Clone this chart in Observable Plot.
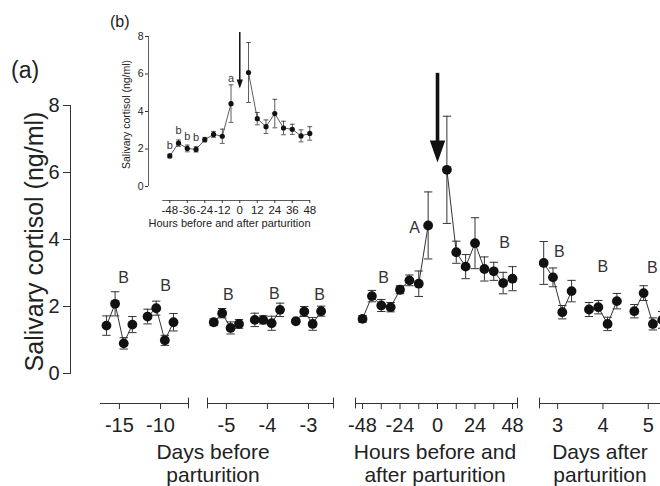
<!DOCTYPE html>
<html><head><meta charset="utf-8">
<script src="https://cdn.jsdelivr.net/npm/d3@7"></script>
<script src="https://cdn.jsdelivr.net/npm/@observablehq/plot@0.6"></script>
<style>
body{margin:0;background:#fff;}
#chart{position:relative;width:660px;height:486px;overflow:hidden;font-family:"Liberation Sans",Arial,Helvetica,sans-serif;color:#222;}
#chart svg{position:absolute;left:0;top:0;overflow:visible;background:transparent;}
.ttl{position:absolute;text-align:center;font-size:21px;line-height:23px;color:#222;white-space:nowrap;transform:translateX(-50%);}
.pl{position:absolute;color:#222;white-space:nowrap;}
</style></head><body><div id="chart"></div>
<script>
// ---------------- data ----------------
const yTicks = [0, 2, 4, 6, 8];
const slots = [1, 2, 3, 4];               // four samples per sampling day

// Days before parturition (far): -15, -10
const farDays = [-15, -10];
const farMean = [[1.43, 2.08, 0.90, 1.46], [1.70, 1.95, 0.99, 1.53]];
const farSE   = [[0.29, 0.36, 0.17, 0.24], [0.22, 0.21, 0.15, 0.26]];
const farTicks = [-15, -10];
const farLetters = ["B", "B"], farLetterX = [-14.5, -9.4], farLetterY = [2.84, 2.63];

// Days before parturition (near): -5, -4, -3
const nearDays = [-5, -4, -3];
const nearMean = [[1.53, 1.80, 1.36, 1.48], [1.60, 1.60, 1.50, 1.90], [1.56, 1.85, 1.48, 1.86]];
const nearSE   = [[0.10, 0.14, 0.18, 0.13], [0.20, 0.12, 0.21, 0.20], [0.06, 0.15, 0.19, 0.15]];
const nearTicks = [-5, -4, -3];
const nearLetters = ["B", "B", "B"], nearLetterX = [-4.95, -3.83, -2.73], nearLetterY = [2.36, 2.39, 2.36];

// Hours before and after parturition
const hoursBefore = [-48, -42, -36, -30, -24, -18, -12, -6];
const hoursBeforeMean = [1.63, 2.31, 2.03, 1.98, 2.50, 2.78, 2.68, 4.42];
const hoursBeforeSE   = [0.10, 0.17, 0.18, 0.14, 0.12, 0.16, 0.38, 1.00];
const hoursAfter = [6, 12, 18, 24, 30, 36, 42, 48];
const hoursAfterMean = [6.08, 3.62, 3.19, 3.89, 3.12, 3.05, 2.70, 2.83];
const hoursAfterSE   = [1.60, 0.33, 0.36, 0.76, 0.36, 0.27, 0.32, 0.36];
const hourTicks = [-48, -36, -24, -12, 0, 12, 24, 36, 48];
const hourTickLabels = [-48, -24, 0, 24, 48];
const hourLetters = ["B", "A", "B"], hourLetterX = [-34.6, -14.7, 42.9], hourLetterY = [2.84, 4.36, 3.91];
const partArrowTop = 8.96, partArrowTip = 6.30;   // parturition arrow (hour 0)

// Days after parturition: 3, 4, 5
const afterDays = [3, 4, 5];
const afterMean = [[3.30, 2.87, 1.83, 2.46], [1.91, 1.98, 1.48, 2.16], [1.86, 2.40, 1.48, 1.60]];
const afterSE   = [[0.64, 0.28, 0.20, 0.32], [0.21, 0.20, 0.20, 0.23], [0.20, 0.22, 0.18, 0.25]];
const afterTicks = [3, 4, 5];
const afterLetters = ["B", "B", "B"], afterLetterX = [3.04, 4.0, 5.09], afterLetterY = [3.64, 3.19, 3.16];

// Inset (b)
const insetTicks = [-48, -36, -24, -12, 0, 12, 24, 36, 48];
const insetLetters = ["b", "b", "b", "b", "a"];
const insetLetterX = [-48, -42, -36, -30, -6];
const insetLetterY = [2.19, 2.97, 2.67, 2.63, 5.74];
const insetArrowTop = 8.21, insetArrowTip = 5.23;

// ---------------- helpers ----------------
const W = 660, H = 486;
const FONT = '"Liberation Sans", Arial, Helvetica, sans-serif';
const INK = "#222", LINE = "#333", DOT = "#111";

function dayRows(days, means, ses, slotWidth) {
  const rows = [];
  days.forEach((d, i) => slots.forEach((s, k) =>
    rows.push({x: d + (s - 2.5) * slotWidth, y: means[i][k], se: ses[i][k], g: d})));
  return rows;
}
function hourRows(hours, means, ses, g) {
  return hours.map((h, i) => ({x: h, y: means[i], se: ses[i], g}));
}
function letterRows(t, xs, ys) { return t.map((s, i) => ({t: s, x: xs[i], y: ys[i]})); }

const capSymbol = {draw(ctx, size) { const r = Math.sqrt(size / Math.PI); ctx.moveTo(-r, 0); ctx.lineTo(r, 0); }};
const headSymbol = {draw(ctx, size) { const r = Math.sqrt(size / Math.PI);
  ctx.moveTo(0, 0); ctx.lineTo(-0.7 * r, -2 * r); ctx.lineTo(0.7 * r, -2 * r); ctx.closePath(); }};

function dataMarks(rows, o) {
  return [
    Plot.line(rows, {x: "x", y: "y", z: "g", stroke: LINE, strokeWidth: o.lw}),
    Plot.ruleX(rows, {x: "x", y1: d => d.y - d.se, y2: d => d.y + d.se, stroke: LINE, strokeWidth: o.lw}),
    Plot.dot(rows, {x: "x", y: d => d.y + d.se, symbol: capSymbol, r: o.cap, stroke: LINE, fill: "none", strokeWidth: o.lw}),
    Plot.dot(rows, {x: "x", y: d => d.y - d.se, symbol: capSymbol, r: o.cap, stroke: LINE, fill: "none", strokeWidth: o.lw}),
    Plot.dot(rows, {x: "x", y: "y", r: o.r, fill: DOT, stroke: "none"})
  ];
}

const chart = document.getElementById("chart");
function mount(svg) { svg.style.background = "transparent"; svg.style.overflow = "visible"; chart.appendChild(svg); }

// main panel geometry
const mainTop = 105, mainZero = 373, mainAxis = 403;
const yFloor = -(mainAxis - mainZero) / ((mainZero - mainTop) / 8);
const capHalf = 0.16;

function segment({rows, letters, domain, left, right, ticks, labels, caps, extra = []}) {
  return Plot.plot({
    width: W, height: H, marginTop: mainTop, marginBottom: H - mainAxis,
    marginLeft: left, marginRight: W - right,
    style: {fontFamily: FONT, color: INK, background: "transparent"},
    x: {domain, axis: null}, y: {domain: [yFloor, 8], axis: null},
    marks: [
      Plot.frame({anchor: "bottom", stroke: LINE}),
      Plot.ruleX(caps, {y1: yFloor - capHalf, y2: yFloor + capHalf, stroke: LINE}),
      Plot.axisX({ticks, tickSize: 6, tickPadding: 8, fontSize: 20, label: null, stroke: LINE,
        tickFormat: d => labels.includes(d) ? String(d) : ""}),
      ...extra,
      ...dataMarks(rows, {lw: 1, cap: 4.2, r: 4.9}),
      Plot.text(letters, {x: "x", y: "y", text: "t", fontSize: 16, fill: "#333"})
    ]
  });
}

// y axis of main panel
mount(Plot.plot({
  width: W, height: H, marginTop: mainTop, marginBottom: H - mainZero, marginLeft: 70, marginRight: W - 70,
  style: {fontFamily: FONT, color: INK, background: "transparent"},
  y: {domain: [0, 8], axis: null},
  marks: [
    Plot.frame({anchor: "left", stroke: LINE}),
    Plot.axisY({ticks: yTicks, anchor: "left", tickSize: 7, tickPadding: 4, fontSize: 20, label: null, stroke: LINE, tickFormat: d => String(d)}),
    Plot.text(["Salivary cortisol (ng/ml)"], {frameAnchor: "left", textAnchor: "middle", rotate: -90, dx: -36, dy: 2, fontSize: 25, fill: INK})
  ]
}));

// segment 1: -15, -10 days
mount(segment({rows: dayRows(farDays, farMean, farSE, 1.05), letters: letterRows(farLetters, farLetterX, farLetterY),
  domain: [-17.3, -6.6], left: 100, right: 188, ticks: farTicks, labels: farTicks, caps: [-6.6]}));
// segment 2: -5..-3 days
mount(segment({rows: dayRows(nearDays, nearMean, nearSE, 0.205), letters: letterRows(nearLetters, nearLetterX, nearLetterY),
  domain: [-5.46, -2.39], left: 207, right: 333, ticks: nearTicks, labels: nearTicks, caps: [-5.46, -2.39]}));
// segment 3: hours
const hourData = [...hourRows(hoursBefore, hoursBeforeMean, hoursBeforeSE, "before"),
                  ...hourRows(hoursAfter, hoursAfterMean, hoursAfterSE, "after")];
mount(segment({rows: hourData, letters: letterRows(hourLetters, hourLetterX, hourLetterY),
  domain: [-52.5, 51.2], left: 355, right: 517, ticks: hourTicks, labels: hourTickLabels, caps: [-52.5, 51.2],
  extra: [
    Plot.ruleX([0], {y1: partArrowTip + 0.3, y2: partArrowTop, stroke: DOT, strokeWidth: 3.6}),
    Plot.dot([0], {x: d => d, y: () => partArrowTip, symbol: headSymbol, r: 11, fill: DOT, stroke: "none"})
  ]}));
// segment 4: days after
mount(segment({rows: dayRows(afterDays, afterMean, afterSE, 0.205), letters: letterRows(afterLetters, afterLetterX, afterLetterY),
  domain: [2.60, 5.27], left: 539, right: 660, ticks: afterTicks, labels: afterTicks, caps: [2.60]}));

// inset (b)
const inTop = 36, inZero = 186, inAxis = 200;
const inFloor = -(inAxis - inZero) / ((inZero - inTop) / 8);
const inLeft = 148, inRight = 310, inDomain = [-62.6, 48.5];
mount(Plot.plot({
  width: W, height: H, marginTop: inTop, marginBottom: H - inAxis, marginLeft: inLeft, marginRight: W - inRight,
  style: {fontFamily: FONT, color: INK, background: "transparent"},
  x: {domain: inDomain, axis: null}, y: {domain: [inFloor, 8], axis: null},
  marks: [
    Plot.ruleX([inDomain[0]], {y1: 0, y2: 8, stroke: LINE, strokeWidth: 0.8}),
    Plot.ruleY([inFloor], {x1: -52.8, x2: inDomain[1], stroke: LINE, strokeWidth: 0.8}),
    Plot.axisX({ticks: insetTicks, tickSize: 3, tickPadding: 2, fontSize: 11.5, label: null, stroke: LINE, tickFormat: d => String(d)}),
    Plot.axisY({ticks: yTicks, anchor: "left", tickSize: 3, tickPadding: 2, fontSize: 10.5, label: null, stroke: LINE, tickFormat: d => String(d)}),
    Plot.text(["Hours before and after parturition"], {frameAnchor: "bottom", dy: 26, fontSize: 11, fill: INK}),
    Plot.text(["Salivary cortisol (ng/ml)"], {frameAnchor: "left", textAnchor: "middle", rotate: -90, dx: -22, dy: -4, fontSize: 10.5, fill: INK}),
    Plot.ruleX([0], {y1: insetArrowTip + 0.2, y2: insetArrowTop, stroke: DOT, strokeWidth: 1.5}),
    Plot.dot([0], {x: d => d, y: () => insetArrowTip, symbol: headSymbol, r: 4.5, fill: DOT, stroke: "none"}),
    ...dataMarks(hourData, {lw: 0.8, cap: 2.4, r: 2.6}),
    Plot.text(letterRows(insetLetters, insetLetterX, insetLetterY), {x: "x", y: "y", text: "t", fontSize: 11, fill: "#333"})
  ]
}));

// titles and panel letters
function label(cls, text, x, y, extra = "") {
  const d = document.createElement("div");
  d.className = cls; d.innerHTML = text; d.style.left = x + "px"; d.style.top = y + "px";
  if (extra) d.style.cssText += extra;
  chart.appendChild(d);
}
label("ttl", "Days before<br>parturition", 213, 440);
label("ttl", "Hours before and<br>after parturition", 435, 440);
label("ttl", "Days after<br>parturition", 600, 440);
label("pl", "(a)", 11, 57, "font-size:23px;");
label("pl", "(b)", 110, 13, "font-size:16px;");
</script></body></html>
